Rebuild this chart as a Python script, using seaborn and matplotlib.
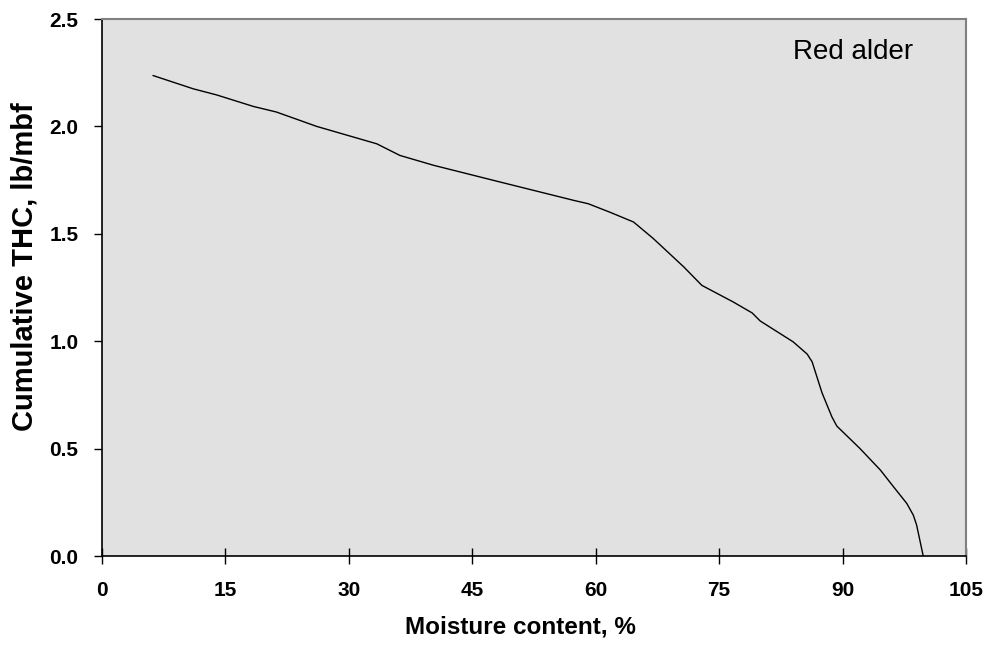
import matplotlib
matplotlib.use("Agg")
import matplotlib.pyplot as plt
import seaborn as sns
import pandas as pd

# Curve
moisture = [6.2, 11.1, 13.9, 18.4, 21.2, 26.1, 33.4, 36.2, 40.3, 48.4, 57.3, 59.1,
            61.7, 64.6, 67.0, 70.7, 72.9, 76.7, 79.0, 80.0, 84.0, 85.7, 86.3, 87.5,
            88.7, 89.3, 92.1, 94.6, 96.2, 97.8, 98.6, 99.0, 99.8]
thc = [2.237, 2.175, 2.147, 2.093, 2.067, 2.0, 1.919, 1.865, 1.819, 1.741, 1.656, 1.64,
       1.601, 1.555, 1.478, 1.346, 1.26, 1.183, 1.132, 1.094, 0.997, 0.94, 0.904, 0.76,
       0.648, 0.605, 0.501, 0.4, 0.322, 0.245, 0.19, 0.144, 0.0]

x_ticks = [0, 15, 30, 45, 60, 75, 90, 105]
y_ticks = [0.0, 0.5, 1.0, 1.5, 2.0, 2.5]

df = pd.DataFrame({"moisture": moisture, "thc": thc})

sns.set_style("ticks", {"axes.facecolor": "#e1e1e1", "text.color": "black",
                        "xtick.color": "black", "ytick.color": "black",
                        "axes.labelcolor": "black"})
plt.rcParams['font.family'] = ['Liberation Sans', 'DejaVu Sans']

fig = plt.figure(figsize=(9.92, 6.47), dpi=100)
ax = fig.add_axes([0.1028, 0.1406, 0.871, 0.8300])

sns.lineplot(data=df, x="moisture", y="thc", color="black", linewidth=1, ax=ax,
             sort=False, estimator=None)

ax.set_xlim(0, 105)
ax.set_ylim(0, 2.5)
ax.set_xticks(x_ticks)
ax.set_yticks(y_ticks)
ax.set_yticklabels([f"{v:.1f}" for v in y_ticks])
ax.tick_params(axis="x", direction="inout", length=12, width=1, labelsize=15, pad=12)
ax.tick_params(axis="y", direction="out", length=6, width=1, labelsize=15, pad=11)
for lbl in ax.get_xticklabels() + ax.get_yticklabels():
    lbl.set_fontweight("bold")

for side in ["left", "bottom"]:
    ax.spines[side].set_color("black")
    ax.spines[side].set_linewidth(1.2)
for side in ["top", "right"]:
    ax.spines[side].set_color("#808080")
    ax.spines[side].set_linewidth(1.5)

ax.set_xlabel("Moisture content, %", fontsize=17.5, fontweight="bold")
ax.set_ylabel("Cumulative THC, lb/mbf", fontsize=21, fontweight="bold")
ax.xaxis.set_label_coords(0.484, -0.1106)
ax.yaxis.set_label_coords(-0.073, 0.539)

ax.text(0.9387, 0.925, "Red alder", transform=ax.transAxes, fontsize=20,
        ha="right", va="baseline")

fig.savefig("out.png", dpi=100)
